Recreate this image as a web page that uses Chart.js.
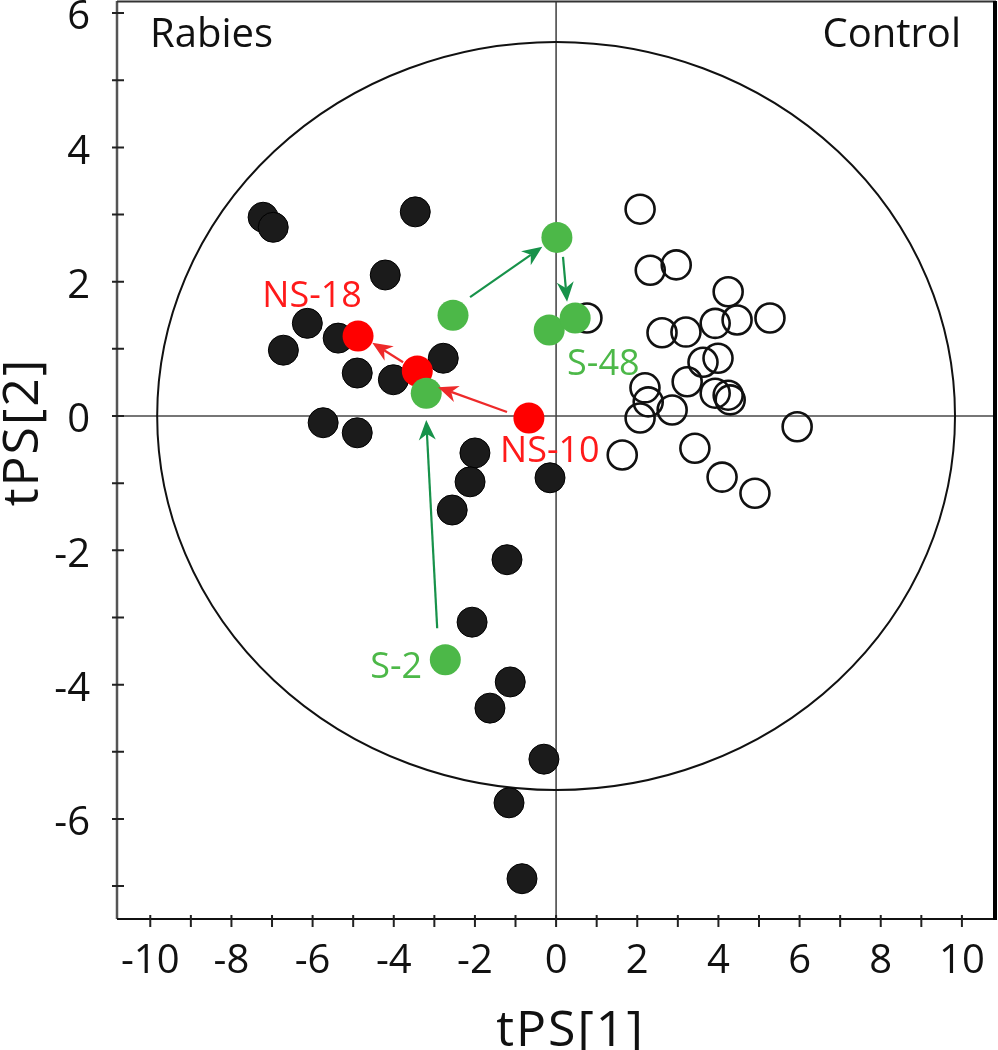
<!DOCTYPE html>
<html><head><meta charset="utf-8">
<script src="https://cdn.jsdelivr.net/npm/chart.js@4.4.0/dist/chart.umd.min.js"></script>
<style>html,body{margin:0;padding:0;background:#fff;}#wrap{width:998px;height:1050px;}</style>
</head><body><div id="wrap"><canvas id="c" width="998" height="1050"></canvas></div>
<script>
// ---- data ----
const rabiesX = [-7.22,-6.97,-3.47,-4.21,-6.13,-6.72,-5.37,-4.90,-4.01,-2.78,-5.74,-4.90,-2.00,-2.12,-2.56,-0.15,-1.21,-2.07,-1.13,-1.63,-0.30,-1.16,-0.84];
const rabiesY = [2.96,2.81,3.04,2.10,1.38,0.98,1.16,0.64,0.54,0.86,-0.10,-0.25,-0.55,-0.98,-1.40,-0.92,-2.14,-3.07,-3.96,-4.35,-5.11,-5.76,-6.89];
const controlX = [2.07,2.32,2.96,4.24,0.76,2.61,3.20,3.92,4.46,5.27,3.62,3.99,3.23,2.19,2.27,2.86,2.07,3.92,4.24,4.29,5.94,1.63,3.42,4.09,4.90];
const controlY = [3.08,2.17,2.25,1.85,1.46,1.24,1.25,1.38,1.43,1.46,0.80,0.86,0.51,0.42,0.21,0.09,-0.03,0.34,0.31,0.24,-0.16,-0.58,-0.48,-0.91,-1.15];
const nsX = [-4.88,-3.42,-0.67];
const nsY = [1.19,0.67,-0.03];
const sX = [-2.73,-3.20,-2.54,0.02,-0.17,0.47];
const sY = [-3.63,0.34,1.50,2.66,1.28,1.46];
const xTickValues = [-10,-8,-6,-4,-2,0,2,4,6,8,10];
const xTickLabels = ['-10','-8','-6','-4','-2','0','2','4','6','8','10'];
const yTickValues = [-6,-4,-2,0,2,4,6];
const yTickLabels = ['-6','-4','-2','0','2','4','6'];
const xMinor = [-10,-9,-8,-7,-6,-5,-4,-3,-2,-1,0,1,2,3,4,5,6,7,8,9,10];
const yMinor = [-7,-6,-5,-4,-3,-2,-1,0,1,2,3,4,5,6];
const ellipseRadii = [9.83, 5.57];
// arrows: [fromX, fromY, toX, toY]
const greenArrows = [[-2.93,-3.16,-3.20,-0.06],[-2.12,1.77,-0.34,2.52],[0.17,2.37,0.27,1.70]];
const redArrows = [[-1.21,0.06,-2.91,0.43],[-3.77,0.80,-4.53,1.09]];
const labelTexts = ['NS-18','NS-10','S-48','S-2'];
const labelX = [-7.24,-1.38,0.27,-4.58];
const labelY = [1.62,-0.68,0.61,-3.90];
const labelColors = ['#ff1a1a','#ff1a1a','#4cb848','#4cb848'];
const groupNames = ['Rabies','Control'];
const xTitle = 'tPS[1]', yTitle = 'tPS[2]';

const toPts = (xs, ys) => xs.map((x, i) => ({x, y: ys[i]}));
const FONT = "'Open Sans', 'Noto Sans', sans-serif";

function drawArrow(ctx, x1, y1, x2, y2, color) {
  const a = Math.atan2(y2 - y1, x2 - x1), c = Math.cos(a), s = Math.sin(a);
  const L = 20, W = 8.5, N = 6;
  const nx = x2 - c * (L - N), ny = y2 - s * (L - N);
  ctx.strokeStyle = color; ctx.lineWidth = 2.2;
  ctx.beginPath(); ctx.moveTo(x1, y1); ctx.lineTo(nx, ny); ctx.stroke();
  const bx = x2 - c * L, by = y2 - s * L;
  ctx.fillStyle = color;
  ctx.beginPath();
  ctx.moveTo(x2, y2);
  ctx.lineTo(bx - s * W, by + c * W);
  ctx.lineTo(nx, ny);
  ctx.lineTo(bx + s * W, by - c * W);
  ctx.closePath(); ctx.fill();
}

const decor = {
  id: 'decor',
  beforeDatasetsDraw(chart) {
    const {ctx, chartArea: a, scales: {x, y}} = chart;
    ctx.save();
    ctx.strokeStyle = '#4a4a4a'; ctx.lineWidth = 1.6;
    ctx.beginPath();
    ctx.moveTo(x.getPixelForValue(0), a.top); ctx.lineTo(x.getPixelForValue(0), a.bottom);
    ctx.moveTo(a.left, y.getPixelForValue(0)); ctx.lineTo(a.right, y.getPixelForValue(0));
    ctx.stroke();
    const cx = x.getPixelForValue(0), cy = y.getPixelForValue(0);
    const rx = x.getPixelForValue(ellipseRadii[0]) - cx, ry = cy - y.getPixelForValue(ellipseRadii[1]);
    ctx.strokeStyle = '#111'; ctx.lineWidth = 2;
    ctx.beginPath(); ctx.ellipse(cx, cy, rx, ry, 0, 0, Math.PI * 2); ctx.stroke();
    ctx.restore();
  },
  afterDatasetsDraw(chart) {
    const {ctx, chartArea: a, scales: {x, y}} = chart;
    ctx.save();
    greenArrows.forEach(r => drawArrow(ctx, x.getPixelForValue(r[0]), y.getPixelForValue(r[1]), x.getPixelForValue(r[2]), y.getPixelForValue(r[3]), '#17924a'));
    redArrows.forEach(r => drawArrow(ctx, x.getPixelForValue(r[0]), y.getPixelForValue(r[1]), x.getPixelForValue(r[2]), y.getPixelForValue(r[3]), '#ee2a2a'));
    ctx.font = '36px ' + FONT; ctx.textBaseline = 'alphabetic'; ctx.textAlign = 'left';
    labelTexts.forEach((t, i) => { ctx.fillStyle = labelColors[i]; ctx.fillText(t, x.getPixelForValue(labelX[i]), y.getPixelForValue(labelY[i])); });
    ctx.fillStyle = '#111'; ctx.font = '40px ' + FONT;
    ctx.fillText(groupNames[0], a.left + 33, a.top + 46);
    ctx.textAlign = 'right';
    ctx.fillText(groupNames[1], a.right - 35, a.top + 46);
    // frame
    ctx.lineWidth = 2.5; ctx.strokeStyle = '#555';
    ctx.beginPath(); ctx.moveTo(a.left, a.top); ctx.lineTo(a.left, a.bottom); ctx.stroke();
    ctx.lineWidth = 2; ctx.strokeStyle = '#333';
    ctx.beginPath(); ctx.moveTo(a.left, a.top + 0.5); ctx.lineTo(a.right, a.top + 0.5); ctx.stroke();
    ctx.strokeStyle = '#111';
    ctx.beginPath(); ctx.moveTo(a.left, a.bottom); ctx.lineTo(a.right, a.bottom); ctx.stroke();
    ctx.lineWidth = 4; ctx.strokeStyle = '#000';
    ctx.beginPath(); ctx.moveTo(a.right - 1, a.top); ctx.lineTo(a.right - 1, a.bottom + 1); ctx.stroke();
    // ticks
    ctx.lineWidth = 2; ctx.strokeStyle = '#222';
    ctx.beginPath();
    xMinor.forEach(v => { const p = x.getPixelForValue(v); ctx.moveTo(p, a.bottom - 4); ctx.lineTo(p, a.bottom + 8); });
    yMinor.forEach(v => { const p = y.getPixelForValue(v); ctx.moveTo(a.left - 5, p); ctx.lineTo(a.left + 7, p); });
    ctx.stroke();
    // axis titles
    ctx.fillStyle = '#111'; ctx.font = '50px ' + FONT; ctx.textAlign = 'center';
    try { ctx.letterSpacing = '2px'; } catch (e) {}
    ctx.fillText(xTitle, (a.left + a.right) / 2 + 14, 1046);
    ctx.save(); ctx.translate(38, 432); ctx.rotate(-Math.PI / 2);
    ctx.fillText(yTitle, 0, 0); ctx.restore();
    ctx.restore();
  }
};

const zeroPad = s => { s.paddingTop = 0; s.paddingBottom = 0; s.paddingLeft = 0; s.paddingRight = 0; };

new Chart(document.getElementById('c'), {
  type: 'scatter',
  data: {
    datasets: [
      {label: 'S', data: toPts(sX, sY), pointRadius: 15.5, backgroundColor: '#4cb848', borderWidth: 0, order: 1},
      {label: 'NS', data: toPts(nsX, nsY), pointRadius: 15.5, backgroundColor: '#ff0000', borderWidth: 0, order: 2},
      {label: 'Rabies', data: toPts(rabiesX, rabiesY), pointRadius: 15, backgroundColor: '#1b1b1b', borderColor: '#000', borderWidth: 1, order: 3},
      {label: 'Control', data: toPts(controlX, controlY), pointRadius: 14.5, backgroundColor: 'rgba(0,0,0,0)', borderColor: '#111', borderWidth: 2.6, order: 4}
    ]
  },
  options: {
    responsive: false, animation: false, devicePixelRatio: 1,
    layout: {autoPadding: false, padding: {top: 1, right: 2, left: 0, bottom: 0}},
    plugins: {legend: {display: false}, tooltip: {enabled: false}},
    scales: {
      x: {
        type: 'linear', min: -10.82, max: 10.84,
        afterBuildTicks: s => { s.ticks = xTickValues.map(v => ({value: v})); },
        afterFit: s => { s.height = 131; zeroPad(s); },
        grid: {display: false, drawTicks: false}, border: {display: false},
        ticks: {padding: 19, color: '#111', font: {family: FONT, size: 40}, autoSkip: false, maxRotation: 0,
          callback: (v) => xTickLabels[xTickValues.indexOf(v)]}
      },
      y: {
        type: 'linear', min: -7.49, max: 6.18,
        afterBuildTicks: s => { s.ticks = yTickValues.map(v => ({value: v})); },
        afterFit: s => { s.width = 117; zeroPad(s); },
        grid: {display: false, drawTicks: false}, border: {display: false},
        ticks: {padding: 27, labelOffset: 5, color: '#111', font: {family: FONT, size: 40}, autoSkip: false,
          callback: (v) => yTickLabels[yTickValues.indexOf(v)]}
      }
    }
  },
  plugins: [decor]
});
</script></body></html>
